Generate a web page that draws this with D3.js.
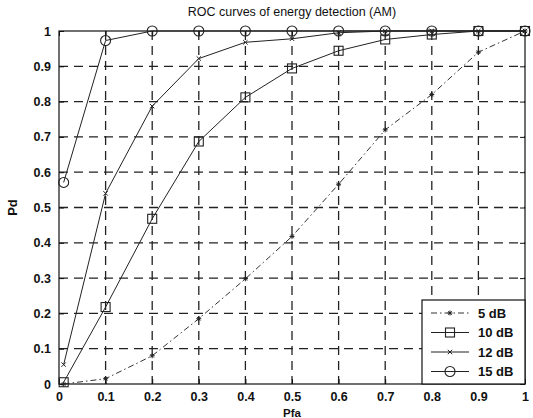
<!DOCTYPE html>
<html><head><meta charset="utf-8">
<script src="https://cdn.jsdelivr.net/npm/d3@7"></script>
<style>body{margin:0;background:#fff}svg{display:block}text{font-family:"Liberation Sans",Arial,sans-serif;fill:#111}</style>
</head><body><div id="c"></div>
<script>
const pfa = [0.01,0.1,0.2,0.3,0.4,0.5,0.6,0.7,0.8,0.9,1.0];
const pd5  = [0.0,0.015,0.08,0.185,0.298,0.418,0.566,0.72,0.82,0.94,1.0];
const pd10 = [0.005,0.218,0.468,0.687,0.812,0.894,0.944,0.976,0.99,1.0,1.0];
const pd12 = [0.055,0.54,0.787,0.922,0.968,0.978,0.995,1.0,1.0,1.0,1.0];
const pd15 = [0.571,0.973,1.0,1.0,1.0,1.0,1.0,1.0,1.0,1.0,1.0];
const seriesNames = ["5 dB","10 dB","12 dB","15 dB"];
const xTicks = [0,0.1,0.2,0.3,0.4,0.5,0.6,0.7,0.8,0.9,1];
const yTicks = [0,0.1,0.2,0.3,0.4,0.5,0.6,0.7,0.8,0.9,1];
const title = "ROC curves of energy detection (AM)";
const xLabel = "Pfa", yLabel = "Pd";

const W=533,H=418, L=59,R=525,T=31,B=384;
const svg=d3.select("#c").append("svg").attr("width",W).attr("height",H);
const x=d3.scaleLinear().domain([0,1]).range([L,R]);
const y=d3.scaleLinear().domain([0,1]).range([B,T]);

// grid
const g=svg.append("g");
xTicks.slice(1,-1).forEach(t=>g.append("line").attr("x1",x(t)).attr("x2",x(t)).attr("y1",T).attr("y2",B)
  .attr("stroke","#222").attr("stroke-width",1.3).attr("stroke-dasharray","9,6"));
yTicks.slice(1,-1).forEach(t=>g.append("line").attr("x1",L).attr("x2",R).attr("y1",y(t)).attr("y2",y(t))
  .attr("stroke","#222").attr("stroke-width",1.3).attr("stroke-dasharray","9,6"));

// axes
const xa=svg.append("g").attr("transform",`translate(0,${B})`).call(d3.axisBottom(x).tickValues(xTicks).tickSize(-5).tickPadding(8).tickFormat(d3.format("~g")));
const ya=svg.append("g").attr("transform",`translate(${L},0)`).call(d3.axisLeft(y).tickValues(yTicks).tickSize(-5).tickPadding(8).tickFormat(d3.format("~g")));
[xa,ya].forEach(a=>{a.select(".domain").remove();a.selectAll("line").attr("stroke","#111");
  a.selectAll("text").attr("font-size",12.5).attr("font-weight","bold").style("font-family","'Liberation Sans',Arial,sans-serif");});
svg.append("g").attr("transform",`translate(0,${T})`).call(d3.axisTop(x).tickValues(xTicks).tickSize(-5).tickFormat(""))
  .call(a=>{a.select(".domain").remove();a.selectAll("line").attr("stroke","#111");});
svg.append("g").attr("transform",`translate(${R},0)`).call(d3.axisRight(y).tickValues(yTicks).tickSize(-5).tickFormat(""))
  .call(a=>{a.select(".domain").remove();a.selectAll("line").attr("stroke","#111");});
svg.append("rect").attr("x",L).attr("y",T).attr("width",R-L).attr("height",B-T).attr("fill","none").attr("stroke","#111").attr("stroke-width",1.2);

// series
const line=d3.line().x(d=>x(d[0])).y(d=>y(d[1]));
const series=[pd5,pd10,pd12,pd15];
const dashes=["6,3,1.5,3",null,null,null];
const stroke=["#333","#222","#222","#222"];
function marker(sel,k,cx,cy,s){
  if(k===0){ // asterisk
    const r=2.5;
    [[0,r],[r,0],[r*.7,r*.7],[r*.7,-r*.7]].forEach(([dx,dy])=>sel.append("line").attr("x1",cx-dx).attr("x2",cx+dx).attr("y1",cy-dy).attr("y2",cy+dy).attr("stroke","#222").attr("stroke-width",1));
  } else if(k===1){
    sel.append("rect").attr("x",cx-s).attr("y",cy-s).attr("width",2*s).attr("height",2*s).attr("fill","none").attr("stroke","#222").attr("stroke-width",1.1);
  } else if(k===2){
    const r=2.2;
    sel.append("line").attr("x1",cx-r).attr("x2",cx+r).attr("y1",cy-r).attr("y2",cy+r).attr("stroke","#222");
    sel.append("line").attr("x1",cx-r).attr("x2",cx+r).attr("y1",cy+r).attr("y2",cy-r).attr("stroke","#222");
  } else {
    sel.append("circle").attr("cx",cx).attr("cy",cy).attr("r",s).attr("fill","none").attr("stroke","#222").attr("stroke-width",1.1);
  }
}
series.forEach((s,k)=>{
  const pts=pfa.map((v,i)=>[v,s[i]]);
  svg.append("path").datum(pts).attr("d",line).attr("fill","none").attr("stroke",stroke[k]).attr("stroke-width",1)
    .attr("stroke-dasharray",dashes[k]);
  const mg=svg.append("g");
  pts.forEach(p=>marker(mg,k,x(p[0]),y(p[1]),k===1?4.5:5));
});

// legend
const lx=422, ly=300, lw=R-lx, lh=B-ly;
const lg=svg.append("g");
lg.append("rect").attr("x",lx).attr("y",ly).attr("width",lw).attr("height",lh).attr("fill","#fff").attr("stroke","#111").attr("stroke-width",1.2);
seriesNames.forEach((n,k)=>{
  const yy=ly+13+k*19.5;
  lg.append("line").attr("x1",lx+9).attr("x2",lx+47).attr("y1",yy).attr("y2",yy).attr("stroke",stroke[k]).attr("stroke-width",1).attr("stroke-dasharray",dashes[k]);
  marker(lg,k,lx+28,yy,k===1?4.5:5);
  lg.append("text").attr("x",lx+56).attr("y",yy+4.5).attr("font-size",13).attr("font-weight","bold").text(n);
});

// labels
svg.append("text").attr("x",(L+R)/2).attr("y",16).attr("text-anchor","middle").attr("font-size",12.5).text(title);
svg.append("text").attr("x",(L+R)/2).attr("y",417).attr("text-anchor","middle").attr("font-size",11.5).attr("font-weight","bold").text(xLabel);
svg.append("text").attr("transform",`translate(17,${(T+B)/2}) rotate(-90)`).attr("text-anchor","middle").attr("font-size",13).attr("font-weight","bold").text(yLabel);
</script></body></html>
